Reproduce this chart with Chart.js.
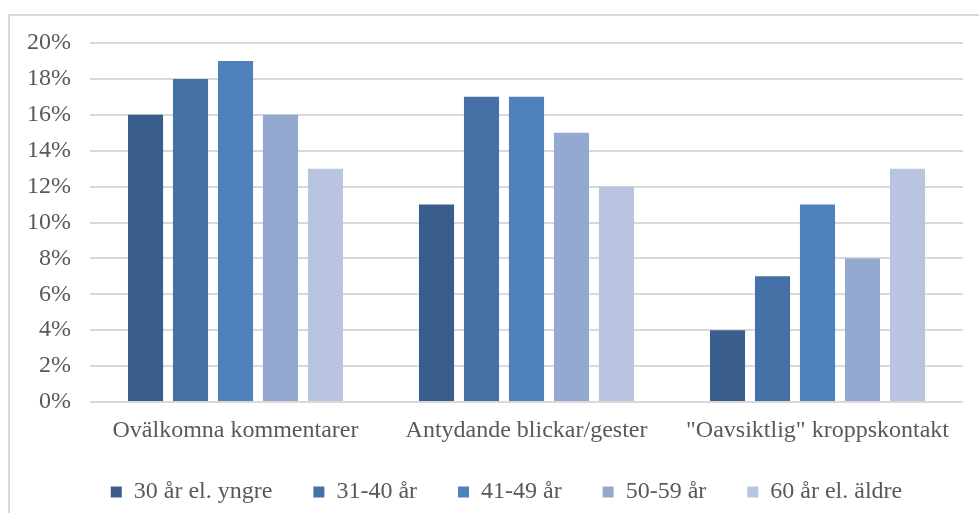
<!DOCTYPE html>
<html>
<head>
<meta charset="utf-8">
<script src="https://cdn.jsdelivr.net/npm/chart.js@4/dist/chart.umd.min.js"></script>
<style>
  html, body { margin: 0; padding: 0; background: #ffffff; }
  #wrap { position: relative; width: 979px; height: 513px; overflow: hidden; }
  #frame { position: absolute; left: 8px; top: 14px; width: 1000px; height: 600px;
           border-top: 2px solid #d9d9d9; border-left: 2px solid #d9d9d9; box-sizing: border-box; }
  canvas { position: absolute; left: 0; top: 0; }
</style>
</head>
<body>
<div id="wrap">
  <div id="frame"></div>
  <canvas id="c" width="979" height="513"></canvas>
</div>
<script>
const categories = ['Ovälkomna kommentarer', 'Antydande blickar/gester', '"Oavsiktlig" kroppskontakt'];
const seriesNames = ['30 år el. yngre', '31-40 år', '41-49 år', '50-59 år', '60 år el. äldre'];
const s30 = [16, 11, 4];
const s31_40 = [18, 17, 7];
const s41_49 = [19, 17, 11];
const s50_59 = [16, 15, 8];
const s60 = [13, 12, 13];
const yTicks = [0, 2, 4, 6, 8, 10, 12, 14, 16, 18, 20];
const colors = ['#3a5e8c', '#4571a6', '#4f81bd', '#94a9d0', '#b9c5e0'];

const allSeries = [s30, s31_40, s41_49, s50_59, s60];
const font = { family: '"Liberation Serif", "Times New Roman", serif', size: 24 };
const textColor = '#595959';

// nudges the legend box to sit where the reference puts it
const legendNudge = {
  id: 'legendNudge',
  afterLayout(chart) {
    const lg = chart.legend;
    if (!lg) return;
    const dy = -9, dx = 12;
    lg.top += dy; lg.bottom += dy;
    lg.left += dx; lg.right += dx;
  }
};

new Chart(document.getElementById('c'), {
  type: 'bar',
  data: {
    labels: categories,
    datasets: allSeries.map((d, i) => ({
      label: seriesNames[i],
      data: d,
      backgroundColor: colors[i],
      borderWidth: 0,
      categoryPercentage: 0.773,
      barPercentage: 0.78
    }))
  },
  plugins: [legendNudge],
  options: {
    responsive: false,
    animation: false,
    devicePixelRatio: 1,
    layout: { padding: { left: 26, right: 16, top: 43, bottom: 0 } },
    plugins: {
      tooltip: { enabled: false },
      legend: {
        position: 'bottom',
        maxHeight: 65,
        labels: {
          boxWidth: 11,
          boxHeight: 11,
          padding: 41,
          color: textColor,
          font: font
        }
      }
    },
    scales: {
      x: {
        grid: { display: false, drawTicks: false },
        border: { display: false },
        ticks: { color: textColor, font: font, padding: 14, maxRotation: 0, autoSkip: false },
        afterFit: (s) => { s.height = 46; }
      },
      y: {
        min: 0,
        max: 20,
        afterBuildTicks: (s) => { s.ticks = yTicks.map(v => ({ value: v })); },
        grid: { color: '#d9d9d9', lineWidth: 2, drawTicks: false },
        border: { display: false },
        ticks: { color: textColor, font: font, padding: 19, callback: (v) => v + '%' },
        afterFit: (s) => { s.width = 64; }
      }
    }
  }
});
</script>
</body>
</html>
